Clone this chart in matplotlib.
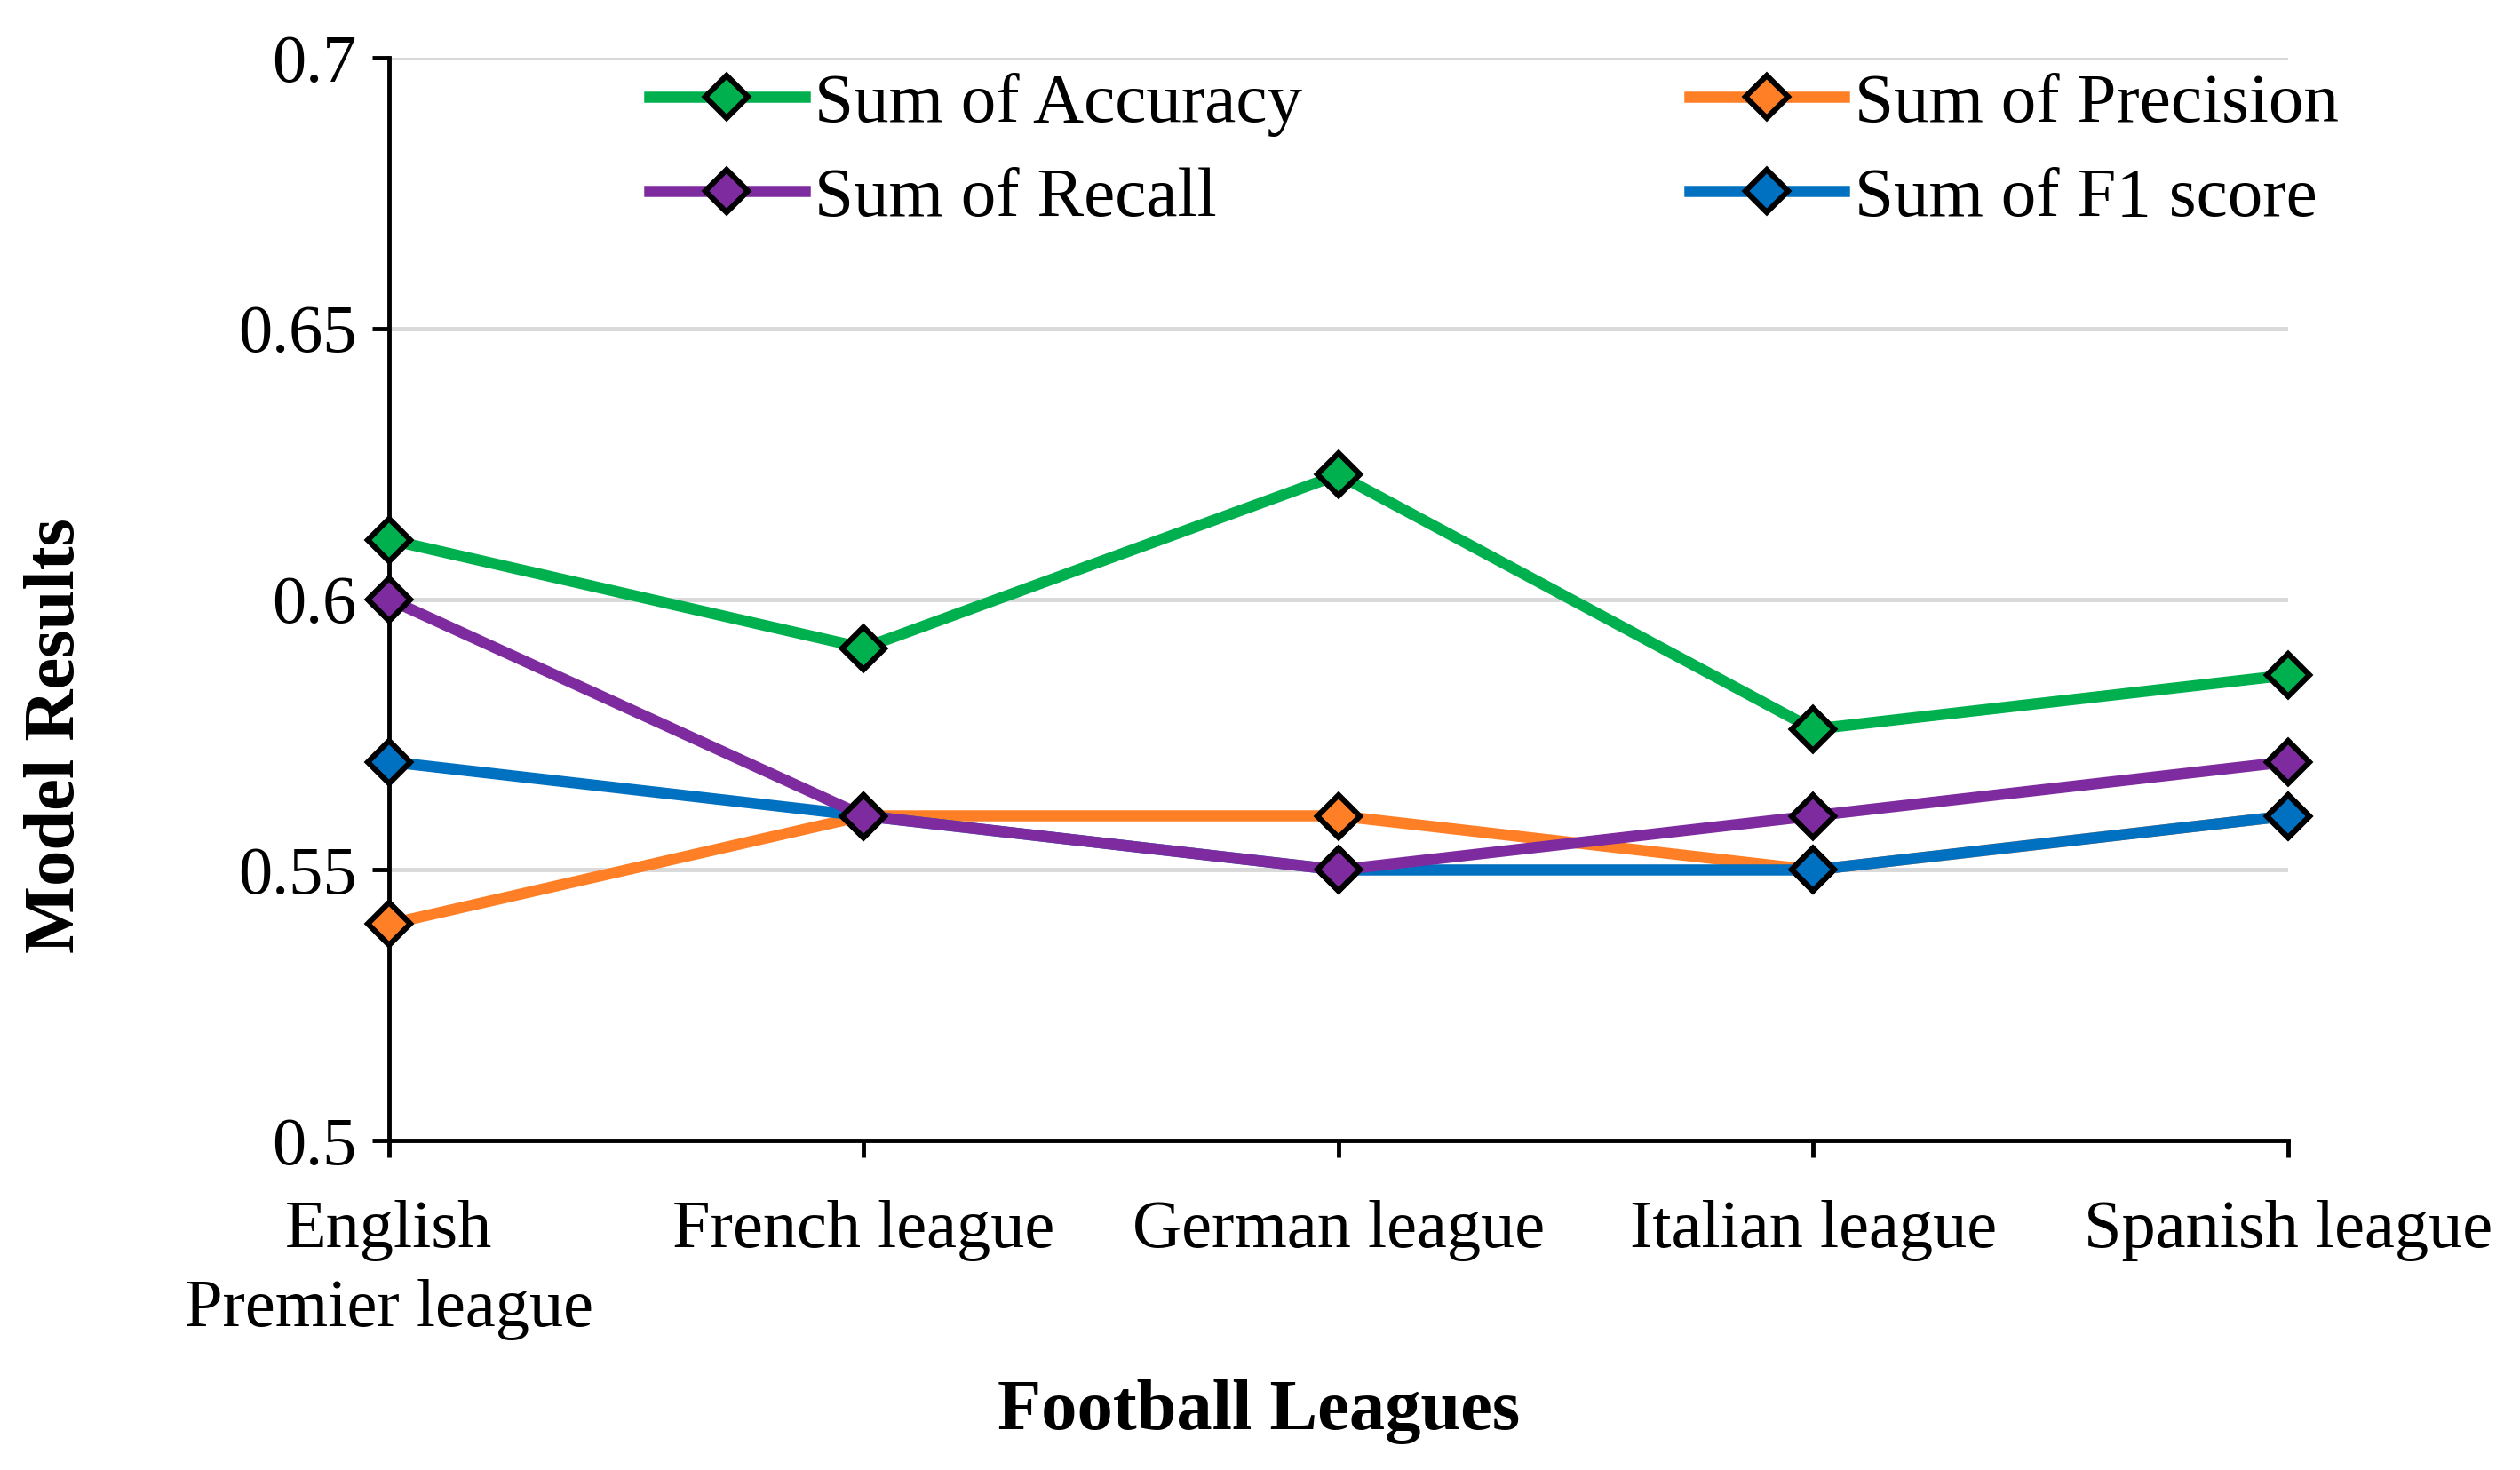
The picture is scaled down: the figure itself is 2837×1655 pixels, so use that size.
import numpy as np
import matplotlib
matplotlib.use('Agg')
import matplotlib.pyplot as plt

leagues = ['English\nPremier league', 'French league', 'German league', 'Italian league', 'Spanish league']
accuracy = [0.611, 0.591, 0.623, 0.576, 0.586]
precision = [0.54, 0.56, 0.56, 0.55, 0.56]
recall = [0.60, 0.56, 0.55, 0.56, 0.57]
f1 = [0.57, 0.56, 0.55, 0.55, 0.56]
yticks = [0.5, 0.55, 0.6, 0.65, 0.7]
ytick_labels = ['0.5', '0.55', '0.6', '0.65', '0.7']

plt.rcParams['font.family'] = ['Liberation Serif', 'DejaVu Serif']

fig = plt.figure(figsize=(28.37, 16.55), dpi=100)
ax = fig.add_axes([0.1543, 0.224, 0.7537, 0.7367])

x = np.arange(len(leagues))
series = [
    ('Sum of Accuracy', accuracy, '#00b04f'),
    ('Sum of Recall', recall, '#7f2ba0'),
    ('Sum of Precision', precision, '#ff7f27'),
    ('Sum of F1 score', f1, '#0070c0'),
]
# precision sits under f1, recall and accuracy on top
z = {'Sum of Accuracy': 6, 'Sum of Recall': 5, 'Sum of F1 score': 4, 'Sum of Precision': 3}
handles = []
for name, vals, col in series:
    h, = ax.plot(x, vals, color=col, lw=9, marker='D', ms=24, mfc=col,
                 mec='black', mew=4.5, label=name, zorder=z[name], clip_on=False)
    handles.append(h)

ax.set_xlim(0, 4)
ax.set_ylim(0.5, 0.7)
ax.set_yticks(yticks)
ax.set_yticklabels(ytick_labels)
ax.set_xticks(x)
ax.set_xticklabels(leagues, linespacing=1.38)
ax.tick_params(axis='both', labelsize=55, width=3.5, length=14, direction='out', pad=12)
ax.tick_params(axis='x', pad=34)
ax.grid(axis='y', color='#d9d9d9', lw=3.5)
ax.set_axisbelow(True)
for s in ['top', 'right']:
    ax.spines[s].set_visible(False)
for s in ['left', 'bottom']:
    ax.spines[s].set_linewidth(3.5)
    ax.spines[s].set_zorder(2)

ax.set_xlabel('Football Leagues', fontsize=58, fontweight='bold')
ax.xaxis.set_label_coords(0.458, -0.22)
ax.set_ylabel('Model Results', fontsize=58, fontweight='bold')
ax.yaxis.set_label_coords(-0.158, 0.374)

ax.legend(handles=handles, ncol=2, loc='upper left', bbox_to_anchor=(0.104, 1.045),
          frameon=False, fontsize=57, handlelength=2.2, handletextpad=0.15,
          columnspacing=5.5, labelspacing=0.42)

fig.savefig('out.png', dpi=100)
